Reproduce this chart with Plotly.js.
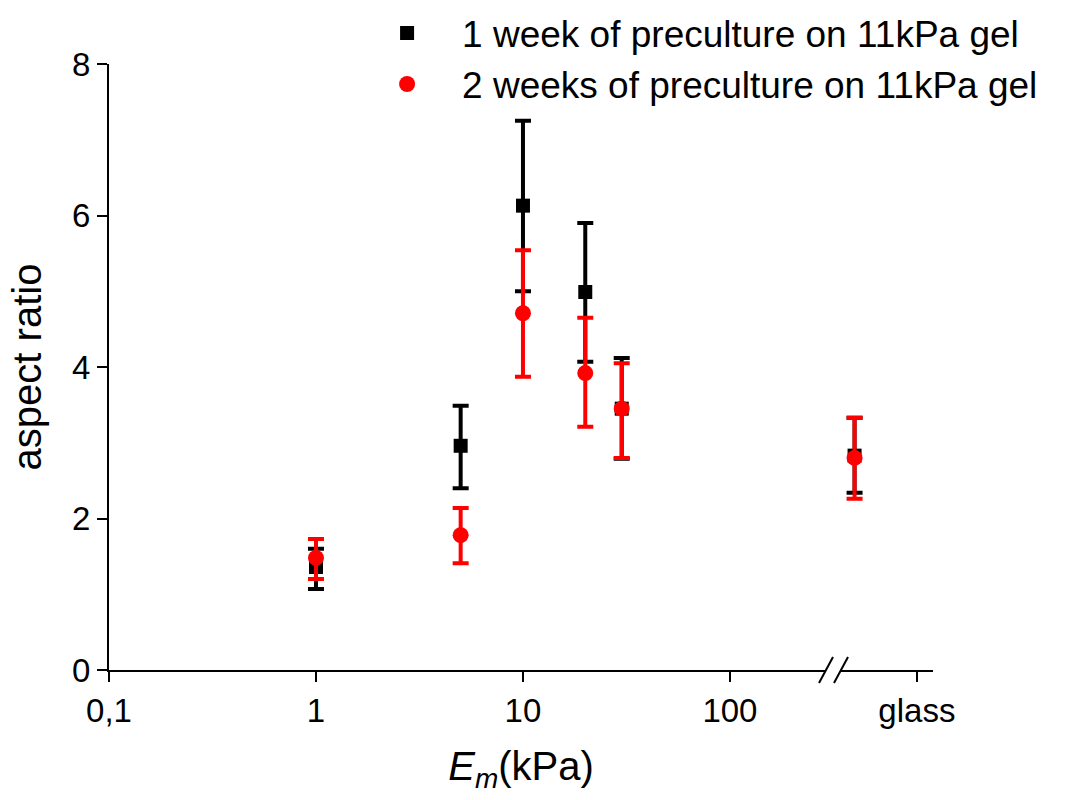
<!DOCTYPE html>
<html>
<head>
<meta charset="utf-8">
<script src="https://cdn.plot.ly/plotly-3.0.1.min.js"></script>
<style>html,body{margin:0;padding:0;background:#fff}#chart{width:1091px;height:800px}</style>
</head>
<body>
<div id="chart"></div>
<script>
// Stiffness of substrate (kPa); the last entry is the "glass" position after the axis break
var xValues = [1, 5, 10, 20, 30, 400];
var seriesNames = ["1 week of preculture on 11kPa gel", "2 weeks of preculture on 11kPa gel"];

var week1Mean = [1.36, 2.96, 6.13, 4.99, 3.45, 2.83];
var week1ErrPlus = [0.24, 0.53, 1.12, 0.91, 0.67, 0.50];
var week1ErrMinus = [0.29, 0.56, 1.13, 0.92, 0.66, 0.49];

var week2Mean = [1.48, 1.78, 4.71, 3.92, 3.45, 2.80];
var week2ErrPlus = [0.25, 0.36, 0.83, 0.73, 0.60, 0.53];
var week2ErrMinus = [0.28, 0.37, 0.84, 0.71, 0.65, 0.54];

var xTickVals = [0.1, 1, 10, 100, 800];
var xTickText = ["0,1", "1", "10", "100", "glass"];
var xMinorLogVals = [-0.5, 0.5, 1.5, 2.676];
var yTickVals = [0, 2, 4, 6, 8];
var yMinorVals = [1, 3, 5, 7];

var FONT = "Liberation Sans, Arial, sans-serif";
var X_LOG_RANGE = [-1, 2.981];
var Y_RANGE = [0, 8];

var traces = [
  {
    x: xValues, y: week1Mean, name: seriesNames[0], type: "scatter", mode: "markers",
    marker: {symbol: "square", size: 14, color: "#000000"},
    error_y: {type: "data", symmetric: false, array: week1ErrPlus, arrayminus: week1ErrMinus,
              color: "#000000", thickness: 4, width: 8}
  },
  {
    x: xValues, y: week2Mean, name: seriesNames[1], type: "scatter", mode: "markers",
    marker: {symbol: "circle", size: 16, color: "#ff0000"},
    error_y: {type: "data", symmetric: false, array: week2ErrPlus, arrayminus: week2ErrMinus,
              color: "#ff0000", thickness: 4, width: 8}
  }
];

var bx1 = (826 - 109) / 824, bx2 = (841 - 109) / 824;
var dx = 7 / 824, dy = 13 / 606;

var layout = {
  width: 1091, height: 800,
  margin: {l: 109, r: 158, t: 64, b: 130, autoexpand: false},
  paper_bgcolor: "#ffffff", plot_bgcolor: "#ffffff",
  font: {family: FONT, color: "#000000"},
  showlegend: true,
  legend: {
    xref: "paper", yref: "paper", x: 0.295, y: 1.1017, xanchor: "left", yanchor: "top",
    font: {family: FONT, size: 37, color: "#000000"}, bgcolor: "rgba(0,0,0,0)",
    itemwidth: 100, tracegroupgap: 0
  },
  xaxis: {
    type: "log", range: X_LOG_RANGE, autorange: false,
    tickmode: "array", tickvals: xTickVals, ticktext: xTickText,
    ticks: "outside", ticklen: 10, tickwidth: 2, tickcolor: "#000000",
    showline: true, linecolor: "#000000", linewidth: 2, mirror: false,
    showgrid: false, zeroline: false,
    tickfont: {family: FONT, size: 33, color: "#000000"},
    title: {text: "<i>E</i><sub><i>m</i></sub>(kPa)", font: {family: FONT, size: 40, color: "#000000"}, standoff: 24}
  },
  xaxis2: {
    overlaying: "x", anchor: "y", side: "bottom", type: "linear",
    range: X_LOG_RANGE, autorange: false,
    tickmode: "array", tickvals: xMinorLogVals, showticklabels: false,
    ticks: "outside", ticklen: 6, tickwidth: 2, tickcolor: "#000000",
    showline: false, showgrid: false, zeroline: false
  },
  yaxis: {
    range: Y_RANGE, autorange: false,
    tickmode: "array", tickvals: yTickVals,
    ticks: "outside", ticklen: 10, tickwidth: 2, tickcolor: "#000000",
    showline: true, linecolor: "#000000", linewidth: 2, mirror: false,
    showgrid: false, zeroline: false,
    tickfont: {family: FONT, size: 33, color: "#000000"},
    title: {text: "aspect ratio", font: {family: FONT, size: 40, color: "#000000"}, standoff: 18}
  },
  yaxis2: {
    overlaying: "y", anchor: "x", side: "left", type: "linear",
    range: Y_RANGE, autorange: false,
    tickmode: "array", tickvals: yMinorVals, showticklabels: false,
    ticks: "outside", ticklen: 6, tickwidth: 2, tickcolor: "#000000",
    showline: false, showgrid: false, zeroline: false
  },
  shapes: [
    {type: "rect", xref: "paper", yref: "paper", x0: bx1, x1: bx2, y0: -0.01, y1: 0.01,
     fillcolor: "#ffffff", line: {width: 0}, layer: "above"},
    {type: "line", xref: "paper", yref: "paper", x0: bx1 - dx, x1: bx1 + dx, y0: -dy, y1: dy,
     line: {color: "#000000", width: 2}, layer: "above"},
    {type: "line", xref: "paper", yref: "paper", x0: bx2 - dx, x1: bx2 + dx, y0: -dy, y1: dy,
     line: {color: "#000000", width: 2}, layer: "above"}
  ]
};

Plotly.newPlot("chart", traces, layout, {displayModeBar: false, staticPlot: true});
</script>
</body>
</html>
